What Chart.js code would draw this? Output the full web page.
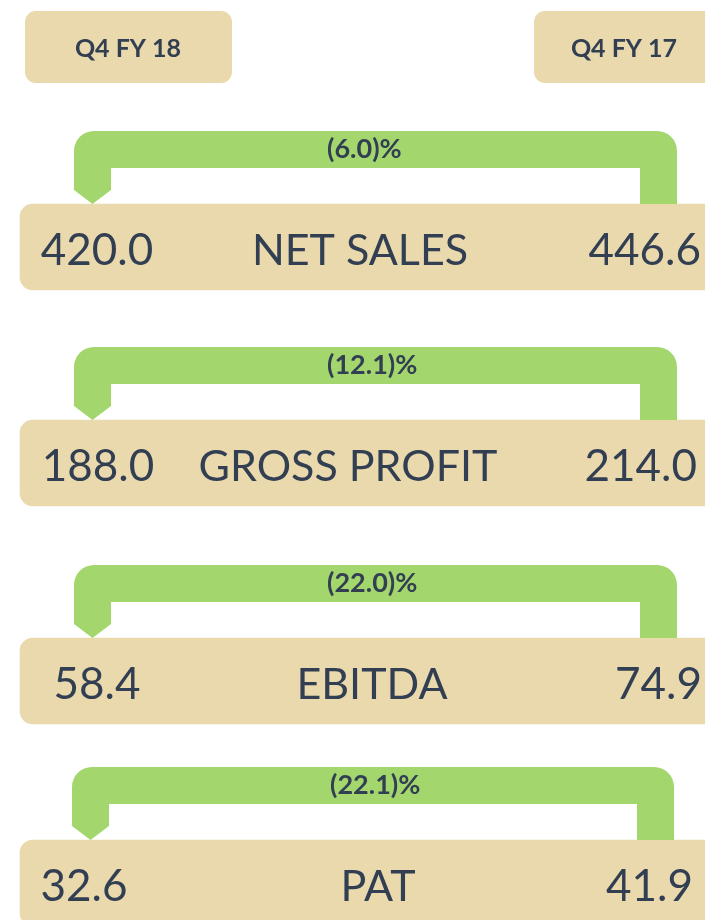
<!DOCTYPE html>
<html>
<head>
<meta charset="utf-8">
<script src="https://cdn.jsdelivr.net/npm/chart.js@4.4.1/dist/chart.umd.min.js"></script>
<style>
  html, body { margin: 0; padding: 0; background: #ffffff; }
  #wrap { width: 705px; height: 920px; position: relative; }
</style>
</head>
<body>
<div id="wrap"><canvas id="c" width="705" height="920"></canvas></div>
<script>
// ---- data ----
const categories = ['NET SALES', 'GROSS PROFIT', 'EBITDA', 'PAT'];
const periods = ['Q4 FY 18', 'Q4 FY 17'];
const q4fy18 = [420.0, 188.0, 58.4, 32.6];
const q4fy17 = [446.6, 214.0, 74.9, 41.9];
const changeLabels = ['(6.0)%', '(12.1)%', '(22.0)%', '(22.1)%'];

// ---- layout (scale units, x: 0..705, y: 0..920 top-down) ----
const rowCenters = [247, 463, 681, 883];
const barSpan = [20, 760];
const leftLegX = [74, 74, 74, 72];
const rightLegX = [677, 677, 677, 674];
const leftValueCenter = [97, 98, 97, 84];
const rightValueEnd = [701, 697, 702, 693];
const labelCenter = [360, 348, 372, 378];
const pctLeft = [327, 327, 327, 330];
const headerBoxes = [[25, 232], [534, 760]];
const headerTextCenter = [128, 624];

const BEIGE = '#e9d9ad';
const GREEN = '#a3d76e';
const INK = '#323e51';

const infographic = {
  id: 'infographic',
  beforeDatasetsDraw(chart) {
    const { ctx, scales: { x, y } } = chart;
    ctx.save();
    headerBoxes.forEach((b, i) => {
      const x0 = x.getPixelForValue(b[0]), x1 = x.getPixelForValue(b[1]);
      const y0 = y.getPixelForValue(11), y1 = y.getPixelForValue(83);
      ctx.fillStyle = BEIGE;
      ctx.beginPath();
      ctx.roundRect(x0, y0, x1 - x0, y1 - y0, 11);
      ctx.fill();
      ctx.fillStyle = INK;
      ctx.font = 'bold 25px Lato';
      ctx.textAlign = 'center';
      ctx.textBaseline = 'alphabetic';
      ctx.fillText(periods[i], x.getPixelForValue(headerTextCenter[i]), y.getPixelForValue(57));
    });
    ctx.restore();
  },
  afterDatasetsDraw(chart) {
    const { ctx, scales: { x, y } } = chart;
    ctx.save();
    categories.forEach((cat, i) => {
      const c = rowCenters[i];
      const T = c - 116;
      const L = leftLegX[i], R = rightLegX[i];
      const px = v => x.getPixelForValue(v), py = v => y.getPixelForValue(v);
      const rad = 20, band = 37, leg = 37;
      ctx.fillStyle = GREEN;
      ctx.beginPath();
      ctx.moveTo(px(L), py(T + 59));
      ctx.lineTo(px(L), py(T + rad));
      ctx.arcTo(px(L), py(T), px(L + rad), py(T), rad);
      ctx.lineTo(px(R - rad), py(T));
      ctx.arcTo(px(R), py(T), px(R), py(T + rad), rad);
      ctx.lineTo(px(R), py(T + 73));
      ctx.lineTo(px(R - leg), py(T + 73));
      ctx.lineTo(px(R - leg), py(T + band));
      ctx.lineTo(px(L + leg), py(T + band));
      ctx.lineTo(px(L + leg), py(T + 59));
      ctx.lineTo(px(L + leg / 2), py(T + 73));
      ctx.closePath();
      ctx.fill();
      ctx.fillStyle = INK;
      ctx.font = 'bold 27px Lato';
      ctx.textAlign = 'left';
      ctx.textBaseline = 'alphabetic';
      ctx.fillText(changeLabels[i], px(pctLeft[i]), py(T + 27));
      const base = py(c + 18);
      ctx.font = '44px Lato';
      ctx.textAlign = 'center';
      ctx.fillText(q4fy18[i].toFixed(1), px(leftValueCenter[i]), base);
      ctx.font = '43px Lato';
      ctx.fillText(cat, px(labelCenter[i]), base);
      ctx.font = '44px Lato';
      ctx.textAlign = 'right';
      ctx.fillText(q4fy17[i].toFixed(1), px(rightValueEnd[i]), base);
    });
    ctx.restore();
  }
};

new Chart(document.getElementById('c'), {
  type: 'bar',
  data: {
    labels: categories,
    datasets: [{
      data: categories.map((cat, i) => ({ x: barSpan, y: rowCenters[i] })),
      backgroundColor: BEIGE,
      borderWidth: 0,
      borderSkipped: false,
      borderRadius: { topLeft: 13, bottomLeft: 13, topRight: 0, bottomRight: 0 },
      barThickness: 86
    }]
  },
  options: {
    indexAxis: 'y',
    responsive: false,
    animation: false,
    events: [],
    layout: { padding: 0 },
    plugins: { legend: { display: false }, tooltip: { enabled: false } },
    scales: {
      x: { type: 'linear', min: 0, max: 705, display: false, offset: false },
      y: { type: 'linear', min: 0, max: 920, reverse: true, display: false, offset: false }
    }
  },
  plugins: [infographic]
});
</script>
</body>
</html>
